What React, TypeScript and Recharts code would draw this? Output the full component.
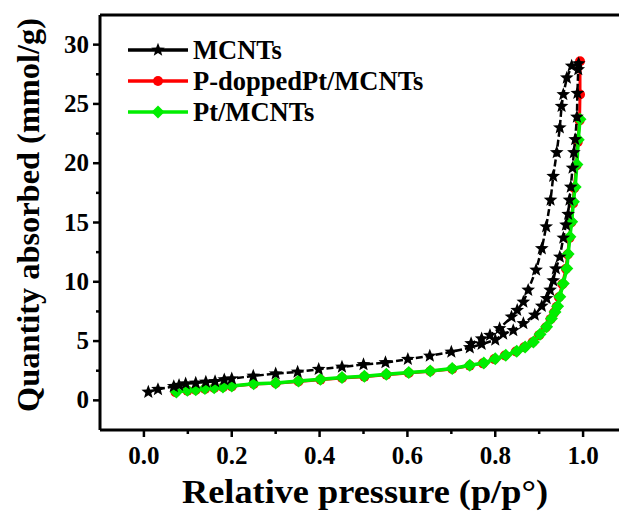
import {
  ScatterChart, Scatter, XAxis, YAxis, Legend, ReferenceLine, Label
} from "recharts";

// MCNTs: adsorption branch up to p/p0 ~0.99, then desorption branch back down
const mcntsX = [
  0.01, 0.032, 0.068, 0.08, 0.095, 0.118, 0.141, 0.162, 0.183, 0.2,
  0.249, 0.3, 0.35, 0.398, 0.451, 0.5, 0.55, 0.601, 0.651, 0.7,
  0.742, 0.769, 0.8, 0.818, 0.841, 0.864, 0.89, 0.906, 0.917, 0.925,
  0.932, 0.938, 0.947, 0.955, 0.961, 0.966, 0.969, 0.972, 0.976, 0.979,
  0.982, 0.986, 0.987, 0.989, 0.99,
  0.974, 0.963, 0.955, 0.951, 0.947, 0.94, 0.932, 0.926, 0.916, 0.906,
  0.893, 0.875, 0.864, 0.85, 0.837, 0.81, 0.788, 0.769, 0.745,
];
const mcntsY = [
  0.7, 0.93, 1.18, 1.28, 1.41, 1.46, 1.55, 1.6, 1.75, 1.83,
  2.06, 2.25, 2.4, 2.62, 2.82, 3.02, 3.19, 3.47, 3.75, 4.08,
  4.45, 4.73, 5.1, 5.6, 5.9, 6.48, 7.2, 7.95, 8.6, 9.3,
  10.1, 11.1, 12.1, 13.7, 14.8, 15.7, 16.9, 18.0, 19.6, 20.9,
  22.0, 23.9, 25.9, 27.9, 28.4,
  28.2, 27.2, 25.8, 24.8, 23.0, 20.9, 18.9, 16.9, 14.65, 12.8,
  11.0, 9.3, 8.3, 7.6, 7.04, 6.06, 5.5, 5.2, 4.8,
];

const pdopX = [
  0.072, 0.099, 0.118, 0.139, 0.16, 0.18, 0.2, 0.25, 0.3, 0.352,
  0.402, 0.451, 0.502, 0.552, 0.603, 0.652, 0.702, 0.742, 0.772, 0.798,
  0.822, 0.847, 0.866, 0.885, 0.9, 0.915, 0.926, 0.934, 0.94, 0.945,
  0.953, 0.961, 0.965, 0.969, 0.973, 0.977, 0.98, 0.985, 0.988, 0.992,
  0.993, 0.993,
];
const pdopY = [
  0.68, 0.82, 0.88, 0.96, 1.04, 1.1, 1.18, 1.38, 1.44, 1.6,
  1.74, 1.88, 2.0, 2.16, 2.3, 2.45, 2.64, 2.93, 3.12, 3.48,
  3.78, 4.12, 4.48, 4.9, 5.5, 6.15, 6.85, 7.4, 7.9, 8.7,
  9.8, 11.1, 12.3, 13.7, 15.0, 16.6, 17.9, 19.8, 21.8, 23.6,
  25.8, 28.6,
];

const ptX = [
  0.074, 0.099, 0.118, 0.139, 0.16, 0.18, 0.2, 0.25, 0.3, 0.352,
  0.402, 0.451, 0.502, 0.552, 0.603, 0.652, 0.702, 0.742, 0.774, 0.8,
  0.824, 0.849, 0.868, 0.887, 0.902, 0.917, 0.928, 0.936, 0.942, 0.947,
  0.955, 0.963, 0.966, 0.97, 0.974, 0.978, 0.982, 0.986, 0.989, 0.993,
];
const ptY = [
  0.7, 0.85, 0.9, 0.99, 1.07, 1.13, 1.21, 1.41, 1.46, 1.63,
  1.77, 1.92, 2.03, 2.2, 2.34, 2.48, 2.68, 2.96, 3.15, 3.5,
  3.8, 4.14, 4.5, 4.93, 5.58, 6.2, 6.9, 7.46, 7.94, 8.73,
  9.86, 11.13, 12.34, 13.8, 15.07, 16.76, 18.0, 19.9, 21.97, 23.7,
];

const xTicks = [0, 0.1, 0.2, 0.3, 0.4, 0.5, 0.6, 0.7, 0.8, 0.9, 1.0];
const yTicks = [0, 2.5, 5, 7.5, 10, 12.5, 15, 17.5, 20, 22.5, 25, 27.5, 30];

const toPoints = (xs: number[], ys: number[]) => xs.map((x, i) => ({ x, y: ys[i] }));
const mcnts = toPoints(mcntsX, mcntsY);
const pdop = toPoints(pdopX, pdopY);
const pt = toPoints(ptX, ptY);

const FONT = "'Liberation Serif', 'Times New Roman', serif";
const PLOT_LEFT = 100;
const PLOT_BOTTOM = 430;
const GREEN = "#00ee00";

function starPath(cx: number, cy: number, R: number, r: number) {
  let d = "";
  for (let i = 0; i < 10; i++) {
    const rad = i % 2 === 0 ? R : r;
    const a = -Math.PI / 2 + (i * Math.PI) / 5;
    d += (i === 0 ? "M" : "L") + (cx + rad * Math.cos(a)).toFixed(2) + "," + (cy + rad * Math.sin(a)).toFixed(2);
  }
  return d + "Z";
}

const Star = (p: any) => <path d={starPath(p.cx, p.cy, 7.2, 3.1)} fill="#000" />;
const Diamond = (p: any) => (
  <path d={`M${p.cx},${p.cy - 6.5}L${p.cx + 6.5},${p.cy}L${p.cx},${p.cy + 6.5}L${p.cx - 6.5},${p.cy}Z`} fill={GREEN} />
);
const Dot = (p: any) => <circle cx={p.cx} cy={p.cy} r={5} fill="#ff0000" />;

const series = [
  { name: "MCNTs", color: "#000", shape: "star" },
  { name: "P-doppedPt/MCNTs", color: "#ff0000", shape: "dot" },
  { name: "Pt/MCNTs", color: GREEN, shape: "diamond" },
];

function XTick(props: any) {
  const { x, payload } = props;
  const v = payload.value;
  const major = Math.round(v * 10) % 2 === 0;
  return (
    <g>
      <line x1={x} x2={x} y1={PLOT_BOTTOM} y2={PLOT_BOTTOM + (major ? 7 : 4)} stroke="#000" strokeWidth={2.5} />
      {major && (
        <text x={x} y={464} textAnchor="middle" fontFamily={FONT} fontWeight="bold" fontSize={25} fill="#000">
          {v.toFixed(1)}
        </text>
      )}
    </g>
  );
}

function YTick(props: any) {
  const { y, payload } = props;
  const v = payload.value;
  const major = v % 5 === 0;
  return (
    <g>
      <line x1={PLOT_LEFT} x2={PLOT_LEFT - (major ? 7 : 4)} y1={y} y2={y} stroke="#000" strokeWidth={2.5} />
      {major && (
        <text x={89} y={y + 8} textAnchor="end" fontFamily={FONT} fontWeight="bold" fontSize={25} fill="#000">
          {v}
        </text>
      )}
    </g>
  );
}

function LegendBox() {
  return (
    <svg width={330} height={100}>
      {series.map((s, i) => {
        const y = 17 + i * 31;
        return (
          <g key={s.name}>
            <line x1={8} x2={68} y1={y} y2={y} stroke={s.color} strokeWidth={3.5} />
            {s.shape === "star" && <Star cx={38} cy={y} />}
            {s.shape === "dot" && <Dot cx={38} cy={y} />}
            {s.shape === "diamond" && <Diamond cx={38} cy={y} />}
            <text x={73} y={y + 9} fontFamily={FONT} fontWeight="bold" fontSize={26.5} fill="#000">
              {s.name}
            </text>
          </g>
        );
      })}
    </svg>
  );
}

export default function App() {
  return (
    <div style={{ position: "absolute", left: 0, top: 0, width: 619, height: 511, overflow: "hidden", background: "#fff" }}>
      <ScatterChart width={640} height={511} margin={{ top: 15, right: 13, bottom: 0, left: 0 }}>
        <XAxis
          type="number" dataKey="x" domain={[-0.1, 1.1]} ticks={xTicks} interval={0}
          allowDataOverflow tickLine={false} tick={XTick} height={81}
          axisLine={{ stroke: "#000", strokeWidth: 3 }}
        >
          <Label
            content={() => (
              <text x={365} y={503} textAnchor="middle"
                fontFamily={FONT} fontWeight="bold" fontSize={33} fill="#000"
                textLength={366} lengthAdjust="spacingAndGlyphs">
                Relative pressure (p/p°)
              </text>
            )}
          />
        </XAxis>
        <YAxis
          type="number" dataKey="y" domain={[-2.5, 32.5]} ticks={yTicks} interval={0}
          allowDataOverflow tickLine={false} tick={YTick} width={100}
          axisLine={{ stroke: "#000", strokeWidth: 3 }}
        >
          <Label
            content={() => (
              <text x={39} y={215} textAnchor="middle" transform="rotate(-90, 39, 215)"
                fontFamily={FONT} fontWeight="bold" fontSize={32} fill="#000"
                textLength={394} lengthAdjust="spacingAndGlyphs">
                Quantity absorbed (mmol/g)
              </text>
            )}
          />
        </YAxis>
        <ReferenceLine y={32.5} stroke="#000" strokeWidth={3} />
        <Legend
          layout="vertical" align="center" verticalAlign="middle"
          wrapperStyle={{ left: 120, top: 33 }}
          content={() => <LegendBox />}
        />
        <Scatter
          name="P-doppedPt/MCNTs" data={pdop} fill="#ff0000" shape={Dot}
          line={{ stroke: "#ff0000", strokeWidth: 3 }} lineType="joint" isAnimationActive={false}
        />
        <Scatter
          name="Pt/MCNTs" data={pt} fill={GREEN} shape={Diamond}
          line={{ stroke: GREEN, strokeWidth: 3.5 }} lineType="joint" isAnimationActive={false}
        />
        <Scatter
          name="MCNTs" data={mcnts} fill="#000" shape={Star}
          line={{ stroke: "#000", strokeWidth: 2.5, strokeDasharray: "7 3" }} lineType="joint" isAnimationActive={false}
        />
      </ScatterChart>
    </div>
  );
}
